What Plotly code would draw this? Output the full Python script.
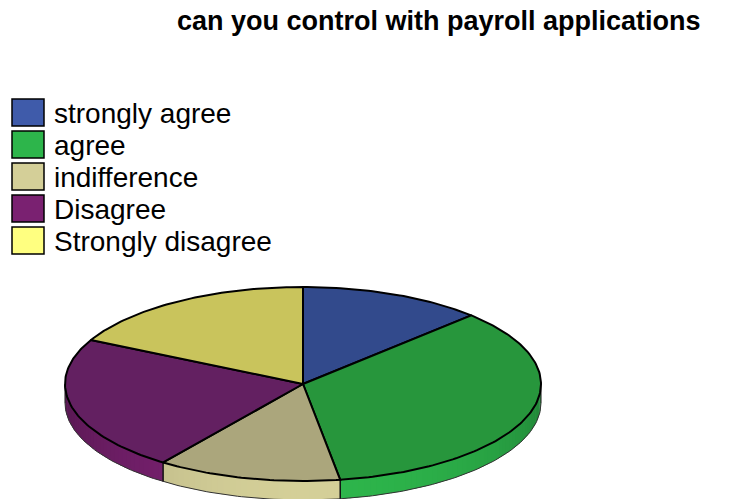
import math
import plotly.graph_objects as go

# Survey answers (counts), drawn clockwise from 12 o'clock
categories = ["strongly agree", "agree", "indifference", "Disagree", "Strongly disagree"]
counts = [5, 14, 5, 9, 7]
title_text = "can you control with payroll applications"

# Face colours: legend/side base colour and the darker top-face tone
base_colors = ["#3F5BAA", "#2DB54B", "#D4CF98", "#7A2171", "#FFFF80"]
top_colors = ["#324A8C", "#27963C", "#ABA67C", "#632061", "#C9C45C"]

W, H = 736, 499
CX, CY = 303, 384       # centre of the top ellipse (pixels)
RX, RY = 238, 97        # ellipse radii
DEPTH = 19              # thickness of the disc


def pt(theta_deg, dy=0.0):
    t = math.radians(theta_deg)
    return CX + RX * math.sin(t), CY - RY * math.cos(t) + dy


def hex_scale(hx, f):
    hx = hx.lstrip("#")
    r, g, b = (int(hx[i:i + 2], 16) for i in (0, 2, 4))
    r, g, b = (max(0, min(255, int(round(c * f)))) for c in (r, g, b))
    return f"rgb({r},{g},{b})"


fig = go.Figure()

total = sum(counts)
bounds = [0.0]
for c in counts:
    bounds.append(bounds[-1] + 360.0 * c / total)

# --- front side walls (visible between 90 and 270 degrees), shaded in strips ---
step = 1.5
for i, (a0, a1) in enumerate(zip(bounds[:-1], bounds[1:])):
    s0, s1 = max(a0, 90.0), min(a1, 270.0)
    if s1 <= s0:
        continue
    n = max(1, int(math.ceil((s1 - s0) / step)))
    for k in range(n):
        t0 = s0 + (s1 - s0) * k / n
        t1 = min(s1, s0 + (s1 - s0) * (k + 1) / n + 0.8)  # slight overlap hides seams
        tm = s0 + (s1 - s0) * (k + 0.5) / n
        f = 0.70 + 0.30 * max(0.0, math.cos(math.radians(tm - 178)))
        m = 4
        arc = [t0 + (t1 - t0) * j / m for j in range(m + 1)]
        xs = [pt(t)[0] for t in arc] + [pt(t, DEPTH)[0] for t in reversed(arc)]
        ys = [pt(t)[1] for t in arc] + [pt(t, DEPTH)[1] for t in reversed(arc)]
        xs.append(xs[0])
        ys.append(ys[0])
        col = hex_scale(base_colors[i], f)
        fig.add_trace(go.Scatter(
            x=xs, y=ys, mode="lines", fill="toself", fillcolor=col,
            line=dict(width=0), hoverinfo="skip", showlegend=False))

# thin outline along the bottom of the wall and its vertical edges
ts = [90 + k for k in range(181)]
fig.add_trace(go.Scatter(
    x=[pt(t, DEPTH)[0] for t in ts], y=[pt(t, DEPTH)[1] for t in ts],
    mode="lines", line=dict(color="#333333", width=1),
    hoverinfo="skip", showlegend=False))
for b in [90.0, 270.0] + [a for a in bounds if 90 < a < 270]:
    top, bot = pt(b), pt(b, DEPTH)
    fig.add_trace(go.Scatter(
        x=[top[0], bot[0]], y=[top[1], bot[1]], mode="lines",
        line=dict(color="#111111", width=1.5 if 90 < b < 270 else 1),
        hoverinfo="skip", showlegend=False))

# --- top faces ---
for i, (a0, a1) in enumerate(zip(bounds[:-1], bounds[1:])):
    n = max(2, int(math.ceil(a1 - a0)))
    xs, ys = [CX], [CY]
    for k in range(n + 1):
        px, py = pt(a0 + (a1 - a0) * k / n)
        xs.append(px)
        ys.append(py)
    xs.append(CX)
    ys.append(CY)
    fig.add_trace(go.Scatter(
        x=xs, y=ys, mode="lines", fill="toself", fillcolor=top_colors[i],
        line=dict(color="#000000", width=2),
        name=categories[i], hoverinfo="name", showlegend=False))

# --- legend: swatches and labels ---
for i, lab in enumerate(categories):
    y0 = 99 + 32 * i
    fig.add_shape(type="rect", xref="x", yref="y",
                  x0=12, x1=44, y0=y0, y1=y0 + 27,
                  fillcolor=base_colors[i], line=dict(color="#000000", width=1.5))
    fig.add_annotation(x=52, y=y0 + 14, xref="x", yref="y", text=lab,
                       showarrow=False, xanchor="left", yanchor="middle",
                       font=dict(family="Liberation Sans, Arial", size=28, color="#000000"))

fig.add_annotation(x=439, y=21, xref="x", yref="y", text=f"<b>{title_text}</b>",
                   showarrow=False, xanchor="center", yanchor="middle",
                   font=dict(family="Liberation Sans, Arial", size=27, color="#000000"))

fig.update_layout(
    width=W, height=H,
    margin=dict(l=0, r=0, t=0, b=0),
    paper_bgcolor="white", plot_bgcolor="white",
    xaxis=dict(range=[0, W], visible=False, fixedrange=True),
    yaxis=dict(range=[H, 0], visible=False, fixedrange=True),
    showlegend=False,
)

fig.write_html("out.html")
